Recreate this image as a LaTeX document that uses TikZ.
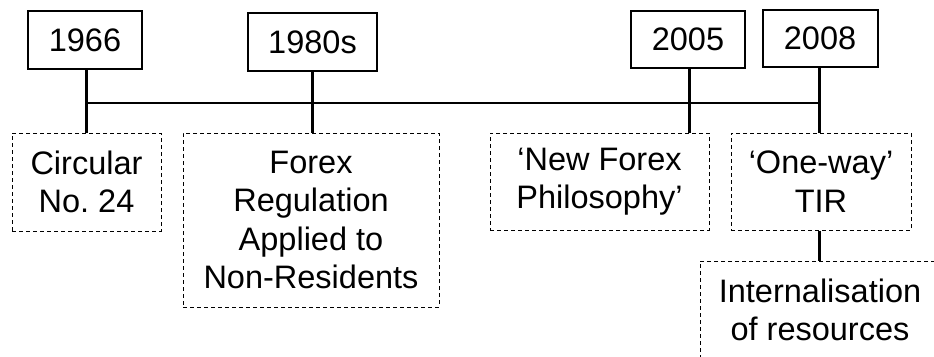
\documentclass[tikz,border=0pt]{standalone}
\usepackage{fontspec}
\setmainfont{Liberation Sans}
\frenchspacing
\begin{document}
\begin{tikzpicture}[x=1pt,y=-1pt,
  txt/.style={font=\fontsize{32.5}{38.5}\selectfont},
  yearbox/.style={draw, line width=2pt, inner sep=0pt, txt},
  eventbox/.style={draw, dash pattern=on 4pt off 3pt, line width=1pt,
    inner sep=0pt, align=center, txt},
  stem/.style={line width=3pt},
  axis/.style={line width=2pt}]
\useasboundingbox (0,0) rectangle (934,356);
\clip (0,0) rectangle (934,356);

% year labels
\node[yearbox, minimum width=114pt, minimum height=58pt] (y1966) at (85,40) {1966};
\node[yearbox, minimum width=129pt, minimum height=58pt] (y1980) at (312.5,42) {1980s};
\node[yearbox, minimum width=114pt, minimum height=57pt] (y2005) at (688,39.5) {2005};
\node[yearbox, minimum width=115pt, minimum height=57pt] (y2008) at (820,38.5) {2008};

% events
\node[eventbox, minimum width=149pt, minimum height=98pt] (e1966) at (86.5,182) {Circular\\No. 24};
\node[eventbox, minimum width=256pt, minimum height=174pt] (e1980) at (311,220) {Forex\\Regulation\\Applied to\\Non-Residents};
\node[eventbox, minimum width=219pt, minimum height=97pt] (e2005) at (599.5,181.5) {‘New Forex\\Philosophy’};
\node[eventbox, minimum width=180pt, minimum height=97pt] (e2008) at (821,181.5) {‘One-way’\\TIR};
\node[eventbox, minimum width=240pt, minimum height=98pt] (eint) at (820,310) {Internalisation\\of resources};

% time axis
\coordinate (tl) at (86,103);
\coordinate (tr) at (819,103);
\draw[axis] (tl) -- (tr);

% stems from years to events
\draw[stem] (y1966.south -| tl) -- (e1966.north -| tl);
\draw[stem] (y1980.south) -- (y1980.south |- e1980.north);
\draw[stem] (y2005.south -| 689,0) -- (e2005.north -| 689,0);
\draw[stem] (y2008.south -| tr) -- (e2008.north -| tr);
\draw[stem] (e2008.south -| tr) -- (eint.north -| tr);
\end{tikzpicture}
\end{document}
